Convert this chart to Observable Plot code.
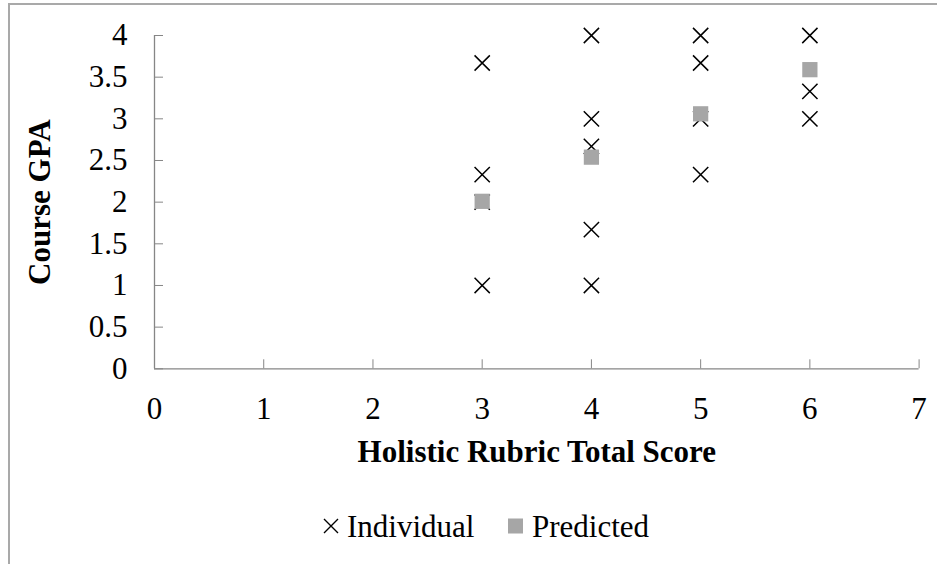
<!DOCTYPE html>
<html>
<head>
<meta charset="utf-8">
<script src="https://cdn.jsdelivr.net/npm/d3@7"></script>
<script src="https://cdn.jsdelivr.net/npm/@observablehq/plot@0.6"></script>
<style>
  html, body { margin: 0; padding: 0; background: #fff; overflow: hidden; }
  body { width: 945px; height: 564px; position: relative; font-family: "Liberation Serif", "Times New Roman", serif; }
  #frame { position: absolute; left: 8px; top: 3px; width: 929px; height: 600px; border-top: 2px solid #a9a9a9; border-left: 2px solid #a9a9a9; box-sizing: border-box; pointer-events: none; }
  #chart svg { display: block; }
  #legend { position: relative; height: 40px; font-size: 31px; color: #000; }
  #legend > * { position: absolute; top: 50%; transform: translateY(-50%); white-space: nowrap; line-height: 1; }
</style>
</head>
<body>
<div id="frame"></div>
<div id="chart"></div>
<div id="legend">
  <svg style="left:323px" width="16" height="16"><path d="M1,1L15,15M1,15L15,1" stroke="#000" stroke-width="1.4" fill="none"/></svg>
  <span style="left:347px">Individual</span>
  <span style="left:508px;width:15px;height:15px;background:#a6a6a6"></span>
  <span style="left:532px">Predicted</span>
</div>
<script>
// Data
const individualX = [3, 3, 3, 3, 4, 4, 4, 4, 4, 5, 5, 5, 5, 6, 6, 6];
const individualY = [3.67, 2.33, 2, 1, 4, 3, 2.67, 1.67, 1, 4, 3.67, 3, 2.33, 4, 3.33, 3];
const predictedX = [3, 4, 5, 6];
const predictedY = [2.01, 2.54, 3.06, 3.59];
const xTicks = [0, 1, 2, 3, 4, 5, 6, 7];
const yTicks = [0, 0.5, 1, 1.5, 2, 2.5, 3, 3.5, 4];
const xTitle = "Holistic Rubric Total Score";
const yTitle = "Course GPA";

const individual = individualX.map((x, i) => ({x, y: individualY[i]}));
const predicted = predictedX.map((x, i) => ({x, y: predictedY[i]}));

const axisColor = "#868686";
const font = "'Liberation Serif', 'Times New Roman', serif";

const chart = Plot.plot({
  width: 945,
  height: 506,
  marginLeft: 154,
  marginRight: 26.4,
  marginTop: 35,
  marginBottom: 137.7,
  style: {fontFamily: font, fontSize: "31px", background: "transparent", color: "#000"},
  x: {domain: [0, 7]},
  y: {domain: [0, 4]},
  marks: [
    Plot.ruleY([0], {stroke: axisColor, strokeWidth: 1.3}),
    Plot.ruleX([0], {stroke: axisColor, strokeWidth: 1.3}),
    Plot.axisX({ticks: xTicks, tickSize: -9, tickPadding: 37, stroke: axisColor, tickFormat: d => String(d), label: null, fill: "#000", fontSize: 31}),
    Plot.axisY({ticks: yTicks, tickSize: -9, tickPadding: 36, stroke: axisColor, tickFormat: d => String(d), label: null, fill: "#000", fontSize: 31}),
    Plot.dot(individual, {x: "x", y: "y", symbol: "times", r: 7, stroke: "#000", strokeWidth: 1.5}),
    Plot.dot(predicted, {x: "x", y: "y", symbol: "square", r: 8.6, fill: "#a6a6a6", stroke: "none"}),
    Plot.text([xTitle], {frameAnchor: "bottom", dy: 83, lineAnchor: "middle", fontWeight: "bold", fontSize: 31}),
    Plot.text([yTitle], {frameAnchor: "left", dx: -114, rotate: -90, textAnchor: "middle", lineAnchor: "middle", fontWeight: "bold", fontSize: 31})
  ]
});
document.getElementById("chart").appendChild(chart);
</script>
</body>
</html>
